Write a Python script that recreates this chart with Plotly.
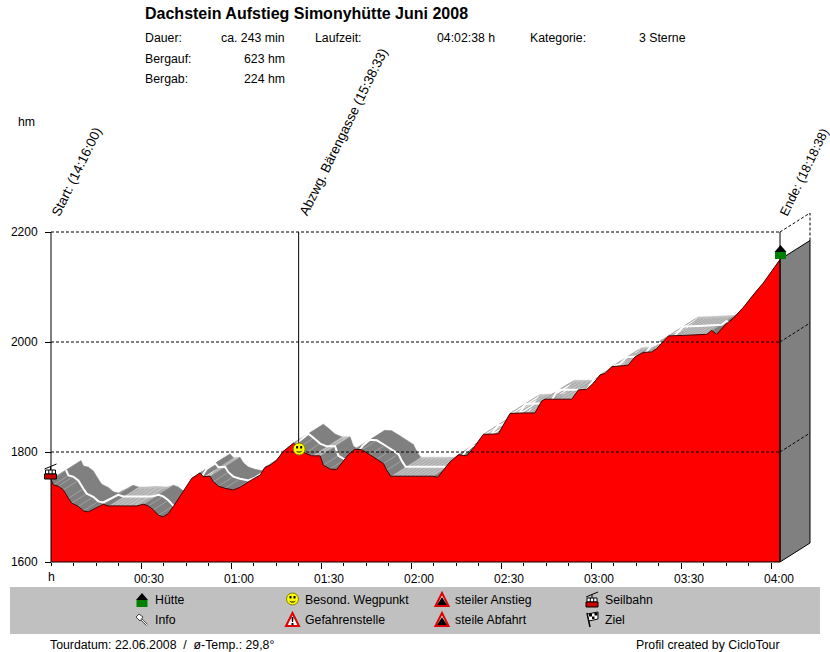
"""Hoehenprofil Dachstein Aufstieg, CicloTour style."""
import plotly.graph_objects as go

# elapsed minutes and elevation in hm
minutes = [0, 0.8, 2.4, 4.1, 5.8, 6.9, 9.1, 10.8, 12.4, 14.1, 16.3, 17.4, 19.1, 21.9, 25.2, 28.6,
           30.8, 32.4, 34.1, 35.8, 37.4, 39.1, 40.8, 43, 45.2, 46.9, 48.6, 49.7, 50.8, 53, 54.1,
           55.8, 58, 60.8, 63, 65.2, 67.4, 69.7, 71.3, 73, 75.2, 77.4, 80.8, 82.6, 84.7, 86.9,
           89.7, 90.8, 93, 95.2, 96.9, 99.1, 101.3, 103.6, 106.3, 108.6, 110.8, 111.9, 113.2,
           117.4, 123, 127.4, 128.9, 130.8, 133, 135.8, 138.6, 140.8, 144.1, 149.1, 153, 157.4,
           161.3, 163.6, 164.7, 169.1, 173.6, 175.8, 178.6, 180.8, 183, 184.7, 186.9, 190.8,
           192.4, 194.7, 197.4, 200.2, 201.9, 204.1, 205.8, 210.8, 218.6, 220.2, 221.9, 224.7,
           227.4, 230.8, 233, 235.2, 237.4, 240.2, 243]
elevation = [1750, 1740, 1738, 1731, 1716, 1707, 1701, 1693, 1691, 1696, 1702, 1705, 1702, 1702,
             1703, 1702, 1705, 1702, 1695, 1685, 1682, 1688, 1701, 1719, 1737, 1752, 1758, 1762,
             1755, 1756, 1746, 1738, 1734, 1731, 1736, 1744, 1751, 1758, 1772, 1776, 1785, 1801,
             1816, 1808, 1798, 1793, 1793, 1776, 1769, 1768, 1779, 1795, 1805, 1804, 1795, 1787,
             1779, 1767, 1756, 1756, 1756, 1756, 1754, 1767, 1782, 1795, 1793, 1807, 1832, 1833,
             1870, 1871, 1871, 1893, 1896, 1896, 1896, 1913, 1914, 1925, 1940, 1943, 1955, 1957,
             1958, 1973, 1981, 1982, 1988, 2001, 2011, 2012, 2014, 2021, 2014, 2031, 2043, 2063,
             2079, 2093, 2107, 2128, 2150]

y_ticks = [1600, 1800, 2000, 2200]
x_ticks = [0, 30, 60, 90, 120, 150, 180, 210, 240]
x_labels = ["", "00:30", "01:00", "01:30", "02:00", "02:30", "03:00", "03:30", "04:00"]
waypoint_min = 82.55
waypoint_elev = 1808

title = "Dachstein Aufstieg Simonyhütte Juni 2008"
info_names = ["Dauer:", "Bergauf:", "Bergab:"]
info_values = ["ca. 243 min", "623 hm", "224 hm"]
marker_labels = ["Start: (14:16:00)", "Abzwg. Bärengasse (15:38:33)", "Ende: (18:18:38)"]
legend_labels = ["Hütte", "Info", "Besond. Wegpunkt", "Gefahrenstelle",
                 "steiler Anstieg", "steile Abfahrt", "Seilbahn", "Ziel"]

W, H = 830, 652
PX_MIN, PX_HM = 3.0, 0.55
X0, Y0 = 51, 562          # pixel of 0 min / 1600 hm
DEPTH_T, DEPTH_E = 10.0, 19 / PX_HM
FONT = "Liberation Sans"
END_T, FLOOR = minutes[-1], y_ticks[0]


def fx(x):
    return x / W


def fy(y):
    return 1 - y / H


def poly(pts, fill=None, line=None, lw=1):
    path = "M " + " L ".join(f"{fx(x):.5f},{fy(y):.5f}" for x, y in pts) + " Z"
    return dict(type="path", xref="paper", yref="paper", path=path,
                fillcolor=fill or "rgba(0,0,0,0)",
                line=dict(color=line or "rgba(0,0,0,0)", width=lw))


def seg(x0, y0, x1, y1, color="#000000", lw=1):
    return dict(type="line", xref="paper", yref="paper", x0=fx(x0), y0=fy(y0), x1=fx(x1), y1=fy(y1),
                line=dict(color=color, width=lw))


def rect(x0, y0, x1, y1, fill, line=None):
    return dict(type="rect", xref="paper", yref="paper", x0=fx(x0), y0=fy(y0), x1=fx(x1), y1=fy(y1),
                fillcolor=fill, line=dict(color=line or fill, width=1 if line else 0))


def circle(cx, cy, r, fill, line=None):
    return dict(type="circle", xref="paper", yref="paper", x0=fx(cx - r), y0=fy(cy + r),
                x1=fx(cx + r), y1=fy(cy - r), fillcolor=fill,
                line=dict(color=line or fill, width=1 if line else 0))


def hut(cx, top):
    return [poly([(cx - 6, top + 7), (cx, top), (cx + 6, top + 7)], "#000000"),
            rect(cx - 5.5, top + 7, cx + 5.5, top + 14, "#008000")]


def smiley(cx, cy):
    return [circle(cx, cy, 6, "#ffff00", "#808000"),
            rect(cx - 3, cy - 3, cx - 1, cy - 0.5, "#000000"),
            rect(cx + 1, cy - 3, cx + 3, cy - 0.5, "#000000"),
            poly([(cx - 3.5, cy + 1.5), (cx - 1.5, cy + 3.5), (cx + 1.5, cy + 3.5), (cx + 3.5, cy + 1.5),
                  (cx + 1.5, cy + 2.5), (cx - 1.5, cy + 2.5)], "#000000")]


def warning(cx, top):
    return [poly([(cx - 6.5, top + 14), (cx, top + 1), (cx + 6.5, top + 14)], "#ffffff", "#e00000", 2),
            poly([(cx - 1, top + 5), (cx + 1, top + 5), (cx + 0.6, top + 10), (cx - 0.6, top + 10)], "#000000"),
            rect(cx - 1, top + 11, cx + 1, top + 13, "#000000")]


def steep(cx, top, rising):
    edge = 1 if rising else -1
    return [poly([(cx - 6.5, top + 14), (cx, top + 1), (cx + 6.5, top + 14)], "#ffffff", "#e00000", 2),
            poly([(cx - 5 * edge, top + 13), (cx, top + 5), (cx + 5 * edge, top + 13)], "#000000")]


def cable_car(cx, top):
    return [seg(cx - 6, top + 5, cx + 6, top, "#000000", 1),
            seg(cx, top + 2, cx, top + 6),
            rect(cx - 5, top + 6, cx + 5, top + 10, "#ffffff", "#000000"),
            seg(cx - 1.7, top + 6, cx - 1.7, top + 10),
            seg(cx + 1.7, top + 6, cx + 1.7, top + 10),
            rect(cx - 6, top + 10, cx + 6, top + 15, "#d00000", "#000000")]


def flag(cx, top):
    shapes = [seg(cx - 2, top + 15, cx - 5, top + 1, "#000000", 1.5),
              poly([(cx - 4.5, top + 2), (cx + 6, top), (cx + 6, top + 7), (cx - 3, top + 9)], "#ffffff", "#000000")]
    shapes += [rect(cx - 3, top + 1.5, cx, top + 4.5, "#000000"),
               rect(cx + 2.5, top + 1, cx + 5.5, top + 3.5, "#000000"),
               rect(cx, top + 4.5, cx + 2.5, top + 7, "#000000")]
    return shapes


def pin(cx, top):
    return [seg(cx + 5, top + 11, cx - 1, top + 5, "#505050", 2.2),
            seg(cx + 5, top + 11, cx - 1, top + 5, "#ffffff", 1),
            poly([(cx - 6, top + 3), (cx - 3, top), (cx + 1, top + 3), (cx - 2, top + 7)], "#ffffff", "#404040")]


fig = go.Figure()

# the ribbon behind the profile: dark where going downhill, light where flat
dark_x, dark_y, light_x, light_y = [], [], [], []
hatch_x, hatch_y, stripe_x, stripe_y = [], [], [], []
for i in range(len(minutes) - 1):
    t0, t1, e0, e1 = minutes[i], minutes[i + 1], elevation[i], elevation[i + 1]
    xs = [t0, t1, t1 + DEPTH_T, t0 + DEPTH_T, t0, None]
    ys = [e0, e1, e1 + DEPTH_E, e0 + DEPTH_E, e0, None]
    downhill = (e1 - e0) / (t1 - t0) < -0.4
    step = 2.6 if downhill else 1.4
    n = max(1, round((t1 - t0) / step))
    hx, hy, reach = (stripe_x, stripe_y, 0.45) if downhill else (hatch_x, hatch_y, 0.9)
    for k in range(n):
        t = t0 + (t1 - t0) * k / n
        e = e0 + (e1 - e0) * k / n
        hx += [t, t + DEPTH_T * reach, None]
        hy += [e, e + DEPTH_E * reach, None]
    if downhill:
        dark_x += xs
        dark_y += ys
    else:
        light_x += xs
        light_y += ys

fig.add_trace(go.Scatter(x=light_x, y=light_y, mode="lines", fill="toself", fillcolor="#c0c0c0",
                         line=dict(color="#c0c0c0", width=0.5)))
fig.add_trace(go.Scatter(x=hatch_x, y=hatch_y, mode="lines", line=dict(color="#a0a0a0", width=0.8)))
fig.add_trace(go.Scatter(x=dark_x, y=dark_y, mode="lines", fill="toself", fillcolor="#808080",
                         line=dict(color="#808080", width=0.5)))
fig.add_trace(go.Scatter(x=stripe_x, y=stripe_y, mode="lines", line=dict(color="#a8a8a8", width=0.8)))
fig.add_trace(go.Scatter(x=[t + DEPTH_T / 2 for t in minutes], y=[e + DEPTH_E / 2 for e in elevation],
                         mode="lines", line=dict(color="#ffffff", width=2)))

# the profile itself
fig.add_trace(go.Scatter(x=[0] + minutes + [END_T], y=[FLOOR] + elevation + [FLOOR], mode="lines",
                         fill="toself", fillcolor="#ff0000", line=dict(width=0)))
fig.add_trace(go.Scatter(x=minutes, y=elevation, mode="lines", line=dict(color="#400000", width=1)))

# right side wall
fig.add_trace(go.Scatter(x=[END_T, END_T, END_T + DEPTH_T, END_T + DEPTH_T, END_T],
                         y=[FLOOR, elevation[-1], elevation[-1] + DEPTH_E, FLOOR + DEPTH_E, FLOOR],
                         mode="lines", fill="toself", fillcolor="#808080", line=dict(color="#000000", width=1)))

top = y_ticks[-1]
shapes = []
for val in y_ticks[1:]:
    dash = "3px,2px"
    shapes.append(dict(type="line", x0=0, x1=END_T, y0=val, y1=val, line=dict(color="#000000", width=1, dash=dash)))
    shapes.append(dict(type="line", x0=END_T, x1=END_T + DEPTH_T, y0=val, y1=val + DEPTH_E,
                       line=dict(color="#000000", width=1, dash=dash)))
shapes.append(dict(type="line", x0=END_T + DEPTH_T, x1=END_T + DEPTH_T, y0=elevation[-1] + DEPTH_E, y1=top + DEPTH_E,
                   line=dict(color="#000000", width=1, dash="3px,2px")))
# axis lines and drop lines
shapes.append(dict(type="line", x0=0, x1=0, y0=FLOOR, y1=top, line=dict(color="#000000", width=1)))
shapes.append(dict(type="line", x0=0, x1=END_T, y0=FLOOR, y1=FLOOR, line=dict(color="#000000", width=1)))
shapes.append(dict(type="line", x0=END_T, x1=END_T, y0=FLOOR, y1=top, line=dict(color="#000000", width=1)))
shapes.append(dict(type="line", x0=waypoint_min, x1=waypoint_min, y0=waypoint_elev, y1=top,
                   line=dict(color="#000000", width=1)))
for s in shapes:
    s.update(xref="x", yref="y")

# legend panel and icons
shapes.append(rect(10, 587, 820, 634, "#c0c0c0"))
shapes += hut(142, 593) + pin(142, 614)
shapes += smiley(292.5, 599) + warning(292.5, 612)
shapes += steep(442, 592, True) + steep(442, 612, False)
shapes += cable_car(592, 592) + flag(592, 612)
# icons on the profile
shapes += cable_car(X0 - 0.5, 464) + smiley(X0 + waypoint_min * PX_MIN + 0.5, 449) + hut(780.5, 245)
fig.update_layout(shapes=shapes)

notes = []


def text(x, y, s, anchor="left", size=12.3, angle=0, weight="normal"):
    # annotation boxes carry 2px of padding
    shift = {"left": -2, "right": 2, "center": 0}[anchor]
    notes.append(dict(xref="paper", yref="paper", x=fx(x + shift), y=fy(y), text=s, showarrow=False,
                      xanchor=anchor, yanchor="middle", textangle=angle,
                      font=dict(family=FONT, size=size, color="#000000", weight=weight)))


text(145, 14, title, size=16, weight="bold")
for row_y, name, value in zip([38, 59, 79], info_names, info_values):
    text(145, row_y, name)
    text(285, row_y, value, "right")
text(315, 38, "Laufzeit:")
text(495, 38, "04:02:38 h", "right")
text(530, 38, "Kategorie:")
text(639, 38, "3 Sterne")
text(18, 122, "hm")
text(51, 577, "h", "center")
# the last label has to stay inside the page
for cx, cy, s, size in zip([76, 344, 803.5], [172, 132, 172], marker_labels, [13.4, 13.4, 12.8]):
    text(cx, cy, s, "center", size=size, angle=-64)
for (lx, ly), s in zip([(155, 600), (155, 620), (305, 600), (305, 620),
                        (455, 600), (455, 620), (605, 600), (605, 620)], legend_labels):
    text(lx, ly, s)
text(50, 645, "Tourdatum: 22.06.2008  /  ø-Temp.: 29,8°")
text(780, 645, "Profil created by CicloTour", "right")

fig.update_layout(
    annotations=notes, width=W, height=H, autosize=False, showlegend=False,
    margin=dict(l=0, r=0, t=0, b=0), paper_bgcolor="#ffffff", plot_bgcolor="rgba(0,0,0,0)",
    font=dict(family=FONT, size=12, color="#000000"), hovermode=False,
    xaxis=dict(domain=[0, 1], range=[-X0 / PX_MIN, (W - X0) / PX_MIN], anchor="free", position=(H - Y0) / H,
               tickmode="array", tickvals=x_ticks, ticktext=x_labels, ticks="outside", ticklen=6,
               tickcolor="#000000", ticklabelshift=8, showgrid=False, zeroline=False, showline=False,
               minor=dict(tickmode="array", tickvals=[t * 7.5 for t in range(33)], ticks="outside", ticklen=3,
                          tickcolor="#000000", showgrid=False)),
    yaxis=dict(domain=[0, 1], range=[FLOOR - (H - Y0) / PX_HM, FLOOR + Y0 / PX_HM], anchor="free", position=X0 / W,
               tickmode="array", tickvals=y_ticks, ticks="outside", ticklen=6, tickcolor="#000000",
               ticklabelstandoff=5, showgrid=False, zeroline=False, showline=False),
)

fig.write_html("out.html", config=dict(displayModeBar=False),
               post_script="document.body.style.margin='0';document.body.style.overflow='hidden';")
